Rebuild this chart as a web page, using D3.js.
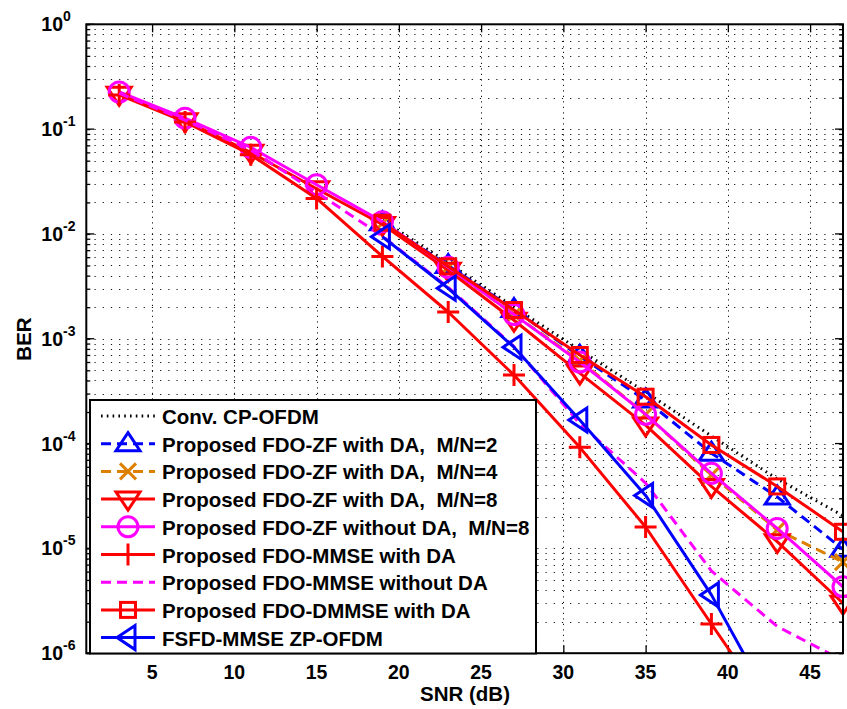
<!DOCTYPE html>
<html>
<head>
<meta charset="utf-8">
<script src="https://cdn.jsdelivr.net/npm/d3@7"></script>
<style>
  body { margin: 0; background: #fff; }
  text { font-family: "Liberation Sans", Arial, Helvetica, sans-serif; font-weight: bold; fill: #000; white-space: pre; }
</style>
</head>
<body>
<svg id="chart" width="847" height="709"></svg>
<script>
// ---- data (BER vs SNR) ----
const snrAll = [3, 7, 11, 15, 19, 23, 27, 31, 35, 39, 43, 47];
const snrHigh = [19, 23, 27, 31, 35, 39, 43, 47];
const snrFSFD = [19, 23, 27, 31, 35, 39, 43];

const berConvCP      = [0.0135, 0.0053, 0.0020, 0.00078, 0.00031, 0.000118, 4.6e-5, 2.05e-5];
const berZF_MN2      = [0.0128, 0.0050, 0.0019, 0.00068, 0.00026, 8.1e-5, 3.1e-5, 9.8e-6];
const berZF_MN4      = [0.0126, 0.0048, 0.0017, 0.00062, 0.00019, 5.0e-5, 1.5e-5, 7.4e-6];
const berZF_MN8      = [0.215, 0.120, 0.060, 0.027, 0.0123, 0.0045, 0.0015, 0.00047, 0.00015, 3.9e-5, 1.16e-5, 3.0e-6];
const berZF_noDA     = [0.226, 0.127, 0.067, 0.0295, 0.0131, 0.0048, 0.0017, 0.00060, 0.00019, 5.2e-5, 1.55e-5, 4.3e-6];
const berMMSE        = [0.212, 0.117, 0.057, 0.0218, 0.0061, 0.0018, 0.00045, 9.2e-5, 1.6e-5, 1.9e-6, 2.3e-7, 2.0e-8];
const berMMSE_noDA   = [0.220, 0.122, 0.063, 0.025, 0.0095, 0.0031, 0.00084, 0.000155, 4.2e-5, 6.1e-6, 1.8e-6, 8.5e-7];
const berDMMSE       = [0.0128, 0.0049, 0.00188, 0.00070, 0.00028, 9.7e-5, 3.9e-5, 1.44e-5];
const berFSFD        = [0.0094, 0.00303, 0.00083, 0.000168, 3.2e-5, 3.6e-6, 2.6e-7];

const xTicks = [5, 10, 15, 20, 25, 30, 35, 40, 45];
const yDecades = [0, -1, -2, -3, -4, -5, -6];

const legendLabels = [
  "Conv. CP-OFDM",
  "Proposed FDO-ZF with DA,  M/N=2",
  "Proposed FDO-ZF with DA,  M/N=4",
  "Proposed FDO-ZF with DA,  M/N=8",
  "Proposed FDO-ZF without DA,  M/N=8",
  "Proposed FDO-MMSE with DA",
  "Proposed FDO-MMSE without DA",
  "Proposed FDO-DMMSE with DA",
  "FSFD-MMSE ZP-OFDM"
];

// ---- series styling ----
const series = [
  { x: snrHigh, y: berConvCP,    color: "#000000", dash: "1.6,4.2", marker: null },
  { x: snrHigh, y: berZF_MN2,    color: "#0000ff", dash: "10,6",    marker: "triUp" },
  { x: snrHigh, y: berZF_MN4,    color: "#dd8000", dash: "10,6",    marker: "cross" },
  { x: snrAll,  y: berZF_MN8,    color: "#ff0000", dash: null,      marker: "triDown" },
  { x: snrAll,  y: berZF_noDA,   color: "#ff00ff", dash: null,      marker: "circle" },
  { x: snrAll,  y: berMMSE,      color: "#ff0000", dash: null,      marker: "plus" },
  { x: snrAll,  y: berMMSE_noDA, color: "#ff00ff", dash: "10,6",    marker: null },
  { x: snrHigh, y: berDMMSE,     color: "#ff0000", dash: null,      marker: "square" },
  { x: snrFSFD, y: berFSFD,      color: "#0000ff", dash: null,      marker: "triLeft" }
];

// ---- layout ----
const plot = { left: 86.3, right: 843, top: 24.3, bottom: 653.2 };

const svg = d3.select("#chart");
const x = d3.scaleLinear().domain([1, 47]).range([plot.left, plot.right]);
const y = d3.scaleLog().domain([1e-6, 1]).range([plot.bottom, plot.top]);

svg.append("defs").append("clipPath").attr("id", "plotClip")
  .append("rect")
  .attr("x", plot.left).attr("y", plot.top)
  .attr("width", plot.right - plot.left).attr("height", plot.bottom - plot.top);

// ---- grid ----
const grid = svg.append("g").attr("stroke", "#111").attr("stroke-width", 1);
xTicks.forEach(t => {
  grid.append("line")
    .attr("x1", Math.round(x(t)) + 0.5).attr("x2", Math.round(x(t)) + 0.5)
    .attr("y1", plot.top).attr("y2", plot.bottom)
    .attr("stroke-dasharray", "1.2,4.3");
});
const yGridVals = [];
for (let e = -6; e < 0; e++) for (let m = 1; m <= 9; m++) yGridVals.push(m * Math.pow(10, e));
yGridVals.push(1);
yGridVals.forEach(v => {
  grid.append("line")
    .attr("x1", plot.left).attr("x2", plot.right)
    .attr("y1", Math.round(y(v)) + 0.5).attr("y2", Math.round(y(v)) + 0.5)
    .attr("stroke-dasharray", "1.2,7");
});

// ---- axes (box with inward ticks) ----
const axisG = svg.append("g");
const xAxisB = d3.axisBottom(x).tickValues(xTicks).tickSize(-8).tickFormat("");
const xAxisT = d3.axisTop(x).tickValues(xTicks).tickSize(-8).tickFormat("");
const yAxisL = d3.axisLeft(y).tickValues(yGridVals).tickSize(-4).tickFormat("");
const yAxisR = d3.axisRight(y).tickValues(yGridVals).tickSize(-4).tickFormat("");
axisG.append("g").attr("transform", `translate(0,${plot.bottom})`).call(xAxisB);
axisG.append("g").attr("transform", `translate(0,${plot.top})`).call(xAxisT);
axisG.append("g").attr("transform", `translate(${plot.left},0)`).call(yAxisL);
axisG.append("g").attr("transform", `translate(${plot.right},0)`).call(yAxisR);
axisG.selectAll(".domain").remove();
axisG.selectAll(".tick line").attr("stroke", "#000").attr("stroke-width", 1.3);
// longer ticks at the decades
yDecades.forEach(e => {
  const yy = y(Math.pow(10, e));
  axisG.append("line").attr("x1", plot.left).attr("x2", plot.left + 8).attr("y1", yy).attr("y2", yy)
    .attr("stroke", "#000").attr("stroke-width", 1.3);
  axisG.append("line").attr("x1", plot.right).attr("x2", plot.right - 8).attr("y1", yy).attr("y2", yy)
    .attr("stroke", "#000").attr("stroke-width", 1.3);
});

// tick labels
xTicks.forEach(t => {
  svg.append("text").attr("x", x(t)).attr("y", 679).attr("text-anchor", "middle")
    .attr("font-size", 19.5).text(t);
});
yDecades.forEach(e => {
  const yy = y(Math.pow(10, e));
  svg.append("text").attr("x", 63).attr("y", yy + 7).attr("text-anchor", "end")
    .attr("font-size", 19.5).text("10");
  svg.append("text").attr("x", 63).attr("y", yy - 3).attr("text-anchor", "start")
    .attr("font-size", 14).text(e === 0 ? "0" : "-" + Math.abs(e));
});

// axis titles
svg.append("text").attr("x", 465).attr("y", 701).attr("text-anchor", "middle")
  .attr("font-size", 20.5).text("SNR (dB)");
svg.append("text").attr("transform", "translate(31,339) rotate(-90)").attr("text-anchor", "middle")
  .attr("font-size", 20.5).text("BER");

// ---- markers ----
function drawMarker(g, kind, cx, cy, color) {
  const common = sel => sel.attr("fill", "none").attr("stroke", color).attr("stroke-width", 3);
  if (kind === "circle") {
    common(g.append("circle").attr("cx", cx).attr("cy", cy).attr("r", 10));
  } else if (kind === "square") {
    common(g.append("rect").attr("x", cx - 7.5).attr("y", cy - 7.5).attr("width", 15).attr("height", 15));
  } else if (kind === "triUp") {
    common(g.append("path").attr("d", `M${cx},${cy - 11}L${cx + 12},${cy + 7}L${cx - 12},${cy + 7}Z`));
  } else if (kind === "triDown") {
    common(g.append("path").attr("d", `M${cx},${cy + 11}L${cx + 12},${cy - 7}L${cx - 12},${cy - 7}Z`));
  } else if (kind === "triLeft") {
    common(g.append("path").attr("d", `M${cx - 11},${cy}L${cx + 7},${cy - 12}L${cx + 7},${cy + 12}Z`));
  } else if (kind === "plus") {
    common(g.append("path").attr("d", `M${cx - 11},${cy}H${cx + 11}M${cx},${cy - 11}V${cy + 11}`));
  } else if (kind === "cross") {
    common(g.append("path").attr("d", `M${cx - 8},${cy - 8}L${cx + 8},${cy + 8}M${cx + 8},${cy - 8}L${cx - 8},${cy + 8}`));
  }
}

// ---- curves ----
const line = d3.line().x(d => x(d[0])).y(d => y(d[1]));
const curves = svg.append("g");
series.forEach(s => {
  const pts = s.x.map((v, i) => [v, s.y[i]]);
  const g = curves.append("g");
  g.append("path")
    .attr("clip-path", "url(#plotClip)")
    .attr("d", line(pts))
    .attr("fill", "none")
    .attr("stroke", s.color)
    .attr("stroke-width", 3)
    .attr("stroke-linejoin", "round")
    .attr("stroke-dasharray", s.dash);
  if (s.marker) {
    pts.filter(p => p[1] >= 1e-6 && p[1] <= 1)
       .forEach(p => drawMarker(g, s.marker, x(p[0]), y(p[1]), s.color));
  }
});

// ---- plot frame ----
svg.append("rect")
  .attr("x", plot.left).attr("y", plot.top)
  .attr("width", plot.right - plot.left).attr("height", plot.bottom - plot.top)
  .attr("fill", "none").attr("stroke", "#000").attr("stroke-width", 2);

// ---- legend ----
const lg = svg.append("g");
const box = { x: 90, y: 400, w: 446, h: 253.5 };
lg.append("rect").attr("x", box.x).attr("y", box.y).attr("width", box.w).attr("height", box.h)
  .attr("fill", "#fff").attr("stroke", "#000").attr("stroke-width", 2);
const rowY0 = 416, rowStep = 27.7;
series.forEach((s, i) => {
  const cy = rowY0 + i * rowStep;
  lg.append("line").attr("x1", 101).attr("x2", 155).attr("y1", cy).attr("y2", cy)
    .attr("stroke", s.color).attr("stroke-width", 3)
    .attr("stroke-dasharray", s.dash);
  if (s.marker) drawMarker(lg, s.marker, 128, cy, s.color);
  lg.append("text").attr("x", 162).attr("y", cy + 8).attr("font-size", 20.5).text(legendLabels[i]);
});
</script>
</body>
</html>
